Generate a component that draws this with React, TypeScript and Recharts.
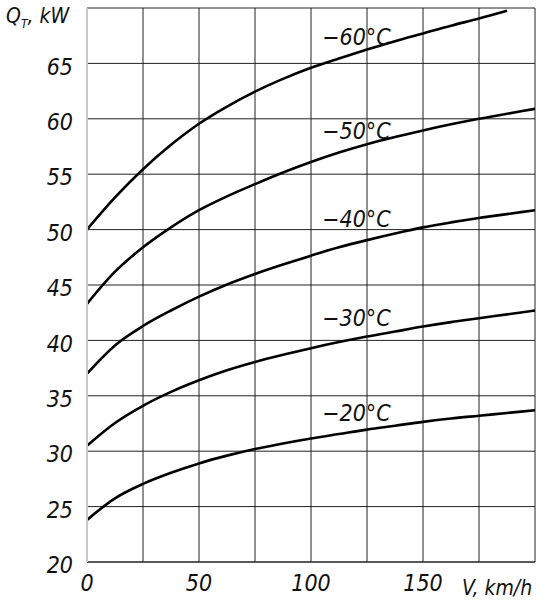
import React from "react";
import {
  LineChart,
  Line,
  XAxis,
  YAxis,
  CartesianGrid,
  ReferenceDot,
} from "recharts";

const SPEEDS = [0, 12.5, 25, 37.5, 50, 62.5, 75, 87.5, 100, 112.5, 125, 137.5, 150, 162.5, 175, 187.5, 200];
const Q_MINUS_60 = [50, 52.9, 55.45, 57.65, 59.55, 61.1, 62.45, 63.6, 64.6, 65.45, 66.25, 67.0, 67.7, 68.4, 69.05, 69.75];
const Q_MINUS_50 = [43.3, 46.2, 48.4, 50.2, 51.75, 53.0, 54.1, 55.15, 56.1, 56.95, 57.7, 58.35, 58.95, 59.5, 60.0, 60.45, 60.9];
const Q_MINUS_40 = [37.0, 39.55, 41.3, 42.7, 43.95, 45.05, 46.0, 46.85, 47.65, 48.4, 49.05, 49.65, 50.2, 50.65, 51.05, 51.4, 51.75];
const Q_MINUS_30 = [30.5, 32.55, 34.1, 35.35, 36.4, 37.3, 38.05, 38.7, 39.3, 39.85, 40.35, 40.8, 41.25, 41.65, 42.0, 42.35, 42.7];
const Q_MINUS_20 = [23.8, 25.75, 27.05, 28.05, 28.9, 29.6, 30.2, 30.7, 31.15, 31.55, 31.95, 32.3, 32.65, 32.95, 33.2, 33.45, 33.7];

const X_TICKS = [0, 25, 50, 75, 100, 125, 150, 175, 200];
const X_LABELED = [0, 50, 100, 150];
const Y_TICKS = [20, 25, 30, 35, 40, 45, 50, 55, 60, 65, 70];

const SERIES = [
  { name: "-60", values: Q_MINUS_60, label: "−60°C", labelY: 67.4 },
  { name: "-50", values: Q_MINUS_50, label: "−50°C", labelY: 58.9 },
  { name: "-40", values: Q_MINUS_40, label: "−40°C", labelY: 51.0 },
  { name: "-30", values: Q_MINUS_30, label: "−30°C", labelY: 42.0 },
  { name: "-20", values: Q_MINUS_20, label: "−20°C", labelY: 33.5 },
];
const LABEL_X = 105;

const FONT = "'DejaVu Sans', sans-serif";
const textStyle = {
  fill: "#111",
  fontSize: 23,
  fontFamily: FONT,
  fontStyle: "italic",
  fontStretch: "condensed",
};

export default function App() {
  return (
    <div style={{ position: "absolute", left: 0, top: 0, width: 547, height: 609, background: "#fff" }}>
      <LineChart
        width={547}
        height={609}
        margin={{ top: 8, right: 12, left: 0, bottom: 17 }}
      >
        <CartesianGrid stroke="#222" strokeWidth={1} />
        <XAxis
          type="number"
          dataKey="v"
          domain={[0, 200]}
          ticks={X_TICKS}
          height={30}
          allowDataOverflow
          axisLine={{ stroke: "#222" }}
          tickLine={false}
          tickSize={0}
          tickMargin={13}
          tickFormatter={(t: number) => (X_LABELED.includes(t) ? String(t) : "")}
          tick={textStyle}
        />
        <YAxis
          type="number"
          dataKey="q"
          domain={[20, 70]}
          ticks={Y_TICKS}
          width={87}
          axisLine={{ stroke: "#c8c8c8", strokeWidth: 2 }}
          tickLine={false}
          tickSize={0}
          tickMargin={14}
          tickFormatter={(t: number) => (t === 70 ? "" : String(t))}
          tick={{ ...textStyle, dy: 3 }}
        />
        {SERIES.map((s) => (
          <Line
            key={s.name}
            data={s.values.map((q, i) => ({ v: SPEEDS[i], q }))}
            dataKey="q"
            type="monotone"
            stroke="#000"
            strokeWidth={2.6}
            dot={false}
            activeDot={false}
            isAnimationActive={false}
          />
        ))}
        {SERIES.map((s) => (
          <ReferenceDot
            key={"l" + s.name}
            x={LABEL_X}
            y={s.labelY}
            r={0}
            stroke="none"
            fill="none"
            label={{ value: s.label, position: "right", offset: 0, ...textStyle }}
          />
        ))}
      </LineChart>
      <div
        style={{
          position: "absolute",
          left: 6,
          top: 4,
          fontFamily: FONT,
          fontStyle: "italic",
          fontStretch: "condensed",
          fontSize: 21,
          color: "#111",
          whiteSpace: "nowrap",
        }}
      >
        Q<sub style={{ fontSize: 12 }}>T</sub>, kW
      </div>
      <div
        style={{
          position: "absolute",
          left: 462,
          top: 576,
          fontFamily: FONT,
          fontStyle: "italic",
          fontStretch: "condensed",
          fontSize: 21,
          color: "#111",
          whiteSpace: "nowrap",
        }}
      >
        V, km/h
      </div>
    </div>
  );
}
